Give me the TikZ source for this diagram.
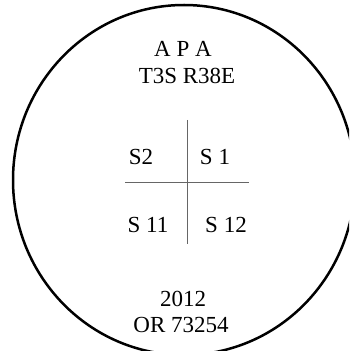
\documentclass[tikz,border=0pt]{standalone}
\usepackage{fontspec}
\setmainfont{Liberation Serif}
\begin{document}
\begin{tikzpicture}[x=1pt,y=1pt,
  lbl/.style={inner sep=0pt,anchor=base,font=\fontsize{23}{27}\selectfont},
  rim/.style={line width=2.5pt,black},
  crossline/.style={line width=1pt,black!60}]
\useasboundingbox (0,0) rectangle (349,351);
\begin{scope}
\clip (0,0) rectangle (349,351);
\draw[rim] (184,171) ellipse [x radius=171, y radius=175];
\end{scope}
\coordinate (vt) at (187.3,231);
\coordinate (vb) at (187.3,107);
\coordinate (hl) at (125,168.7);
\coordinate (hr) at (249.3,168.7);
\draw[crossline] (vt) -- (vb);
\draw[crossline] (hl) -- (hr);
\node[lbl] (apa) at (183,294) {A P A};
\node[lbl] (trs) at (187,267) {T3S R38E};
\node[lbl] (s2) at (141,186) {S2};
\node[lbl] (s1) at (215,186) {S 1};
\node[lbl] (s11) at (148,118) {S 11};
\node[lbl] (s12) at (226,118) {S 12};
\node[lbl] (yr) at (183,44) {2012};
\node[lbl] (orn) at (181,18) {OR 73254};
\end{tikzpicture}
\end{document}
